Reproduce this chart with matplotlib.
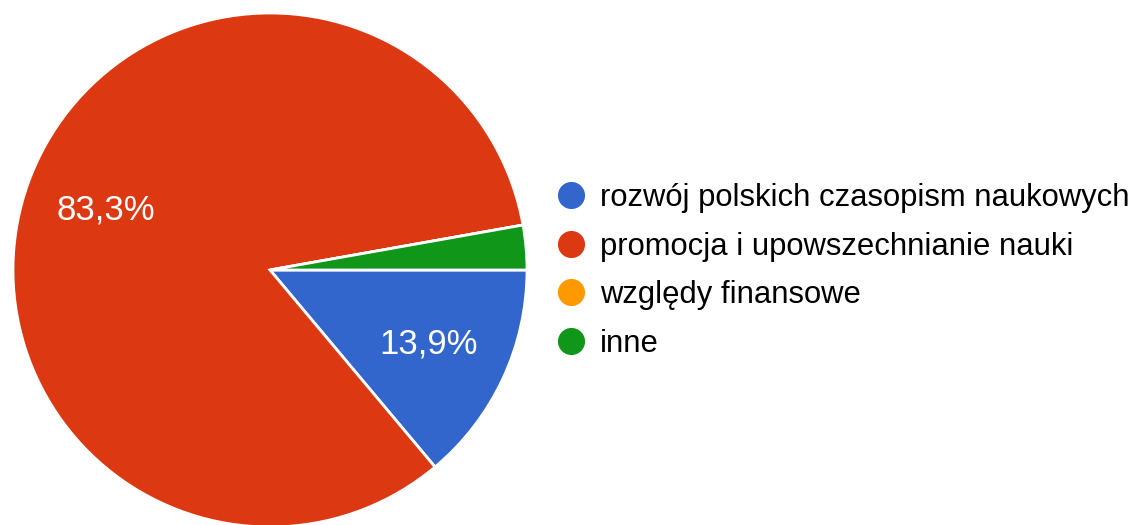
import matplotlib
matplotlib.use("Agg")
import matplotlib.pyplot as plt
from matplotlib.lines import Line2D

plt.rcParams["font.family"] = ["Liberation Sans", "DejaVu Sans"]

labels = [
    "rozwój polskich czasopism naukowych",
    "promocja i upowszechnianie nauki",
    "względy finansowe",
    "inne",
]
shares = [13.9, 83.3, 0.0, 2.8]
colors = ["#3366cc", "#dc3912", "#ff9900", "#109618"]


def fmt_pct(p):
    if p < 5:
        return ""
    return f"{p:.1f}%".replace(".", ",")


W, H = 1135, 525
fig = plt.figure(figsize=(W / 100, H / 100), dpi=100)
fig.patch.set_facecolor("white")

# pie centre ~ (270, 270) px from top-left, radius ~257 px
cx, cy, r = 270, 270, 257
ax = fig.add_axes([(cx - r) / W, (H - cy - r) / H, 2 * r / W, 2 * r / H])
wedges, texts, autotexts = ax.pie(
    shares,
    colors=colors,
    startangle=0,
    counterclock=False,
    radius=1,
    autopct=fmt_pct,
    pctdistance=0.68,
    wedgeprops=dict(edgecolor="white", linewidth=2),
    textprops=dict(color="white", fontsize=25),
)
ax.set_xlim(-1, 1)
ax.set_ylim(-1, 1)
ax.set_aspect("equal")
ax.axis("off")

handles = [
    Line2D([0], [0], marker="o", linestyle="none", markersize=18.5,
           markerfacecolor=c, markeredgecolor=c)
    for c in colors
]
fig.legend(
    handles, labels,
    loc="upper left",
    bbox_to_anchor=(556 / W, 1 - 183 / H),
    frameon=False,
    fontsize=22.3,
    handletextpad=0.42,
    labelspacing=0.6,
    handlelength=1.0,
    borderaxespad=0,
    borderpad=0,
)

fig.savefig("out.png", dpi=100, facecolor="white")
